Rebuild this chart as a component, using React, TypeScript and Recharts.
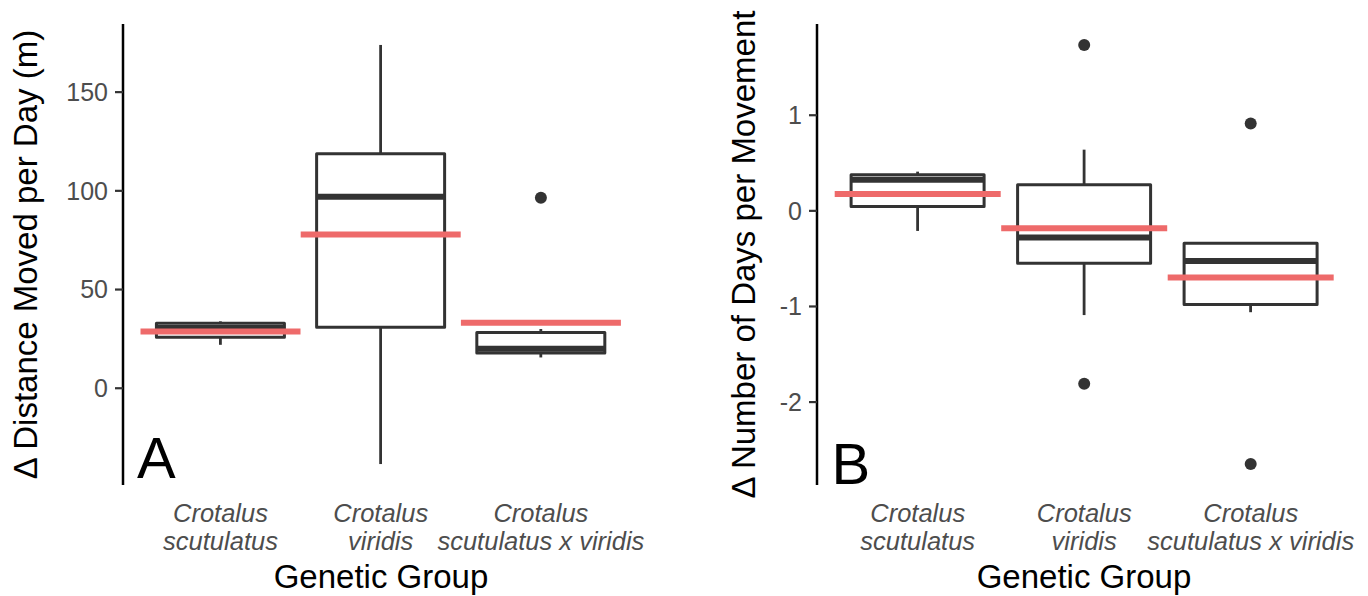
import { Bar, ComposedChart, Scatter, XAxis, YAxis } from "recharts";

const FONT = '"Liberation Sans", Arial, Helvetica, sans-serif';
const INK = "#333333";
const TICK_GREY = "#4D4D4D";
const MEAN_RED = "#EE6A6A";

const groups = ["Crotalus scutulatus", "Crotalus viridis", "Crotalus scutulatus x viridis"];

// panel A: change in distance moved per day (m)
const distLower = [22.0, -38.4, 15.6];
const distQ1 = [25.8, 30.9, 17.9];
const distMedian = [30.5, 97.0, 20.0];
const distQ3 = [32.9, 118.8, 28.3];
const distUpper = [33.9, 173.9, 30.0];
const distMean = [28.8, 77.9, 33.2];
const distOutGroup = [2];
const distOutValue = [96.5];
const distTicks = [0, 50, 100, 150];

// panel B: change in number of days per movement
const daysLower = [-0.21, -1.09, -1.06];
const daysQ1 = [0.045, -0.549, -0.979];
const daysMedian = [0.325, -0.28, -0.525];
const daysQ3 = [0.378, 0.273, -0.339];
const daysUpper = [0.41, 0.64, -0.339];
const daysMean = [0.175, -0.182, -0.696];
const daysOutGroup = [1, 1, 2, 2];
const daysOutValue = [1.735, -1.808, 0.913, -2.648];
const daysTicks = [-2, -1, 0, 1];

type BoxRow = {
  name: string;
  whisker: [number, number];
  q1: number;
  q3: number;
  median: number;
  mean: number;
};

function buildRows(lo: number[], q1: number[], med: number[], q3: number[], hi: number[], mean: number[]): BoxRow[] {
  return groups.map((name, i) => ({
    name,
    whisker: [lo[i], hi[i]],
    q1: q1[i],
    q3: q3[i],
    median: med[i],
    mean: mean[i],
  }));
}

function buildOutliers(idx: number[], vals: number[]) {
  return idx.map((g, i) => ({ name: groups[g], value: vals[i] }));
}

// ggplot-style 5% expansion around all plotted values
function expanded(...series: number[][]): [number, number] {
  const all = series.flat();
  const min = Math.min(...all);
  const max = Math.max(...all);
  const pad = (max - min) * 0.05;
  return [min - pad, max + pad];
}

function BoxShape(props: any) {
  const { x, y, width, height, payload } = props;
  const top = Math.min(y, y + height);
  const bottom = Math.max(y, y + height);
  const [lo, hi] = payload.whisker;
  const toY = (v: number) => (hi === lo ? top : top + ((hi - v) / (hi - lo)) * (bottom - top));
  const cx = x + width / 2;
  const yQ1 = toY(payload.q1);
  const yQ3 = toY(payload.q3);
  const yMed = toY(payload.median);
  return (
    <g>
      <line x1={cx} x2={cx} y1={top} y2={yQ3} stroke={INK} strokeWidth={2.8} />
      <line x1={cx} x2={cx} y1={yQ1} y2={bottom} stroke={INK} strokeWidth={2.8} />
      <rect
        x={x}
        y={yQ3}
        width={width}
        height={Math.max(yQ1 - yQ3, 0)}
        fill="#fff"
        stroke={INK}
        strokeWidth={3}
        strokeLinejoin="round"
      />
      <line x1={x} x2={x + width} y1={yMed} y2={yMed} stroke={INK} strokeWidth={6} />
    </g>
  );
}

const meanShape = (half: number) => (props: any) =>
  (
    <line x1={props.cx - half} x2={props.cx + half} y1={props.cy} y2={props.cy} stroke={MEAN_RED} strokeWidth={6} />
  );

const outlierShape = (props: any) => <circle cx={props.cx} cy={props.cy} r={6} fill={INK} />;

function GroupTick(props: any) {
  const { x, y, payload } = props;
  const [genus, ...rest] = String(payload.value).split(" ");
  return (
    <text x={x} y={y} textAnchor="middle" fontFamily={FONT} fontSize={25.5} fontStyle="italic" fill={TICK_GREY}>
      <tspan x={x} y={y + 37}>
        {genus}
      </tspan>
      <tspan x={x} y={y + 64.5}>
        {rest.join(" ")}
      </tspan>
    </text>
  );
}

const yTitle = (text: string, baselineX: number) => (props: any) => {
  const vb = props.viewBox;
  return (
    <text
      transform={`translate(${vb.x + baselineX}, ${vb.y + vb.height / 2}) rotate(-90)`}
      textAnchor="middle"
      fontFamily={FONT}
      fontSize={33}
      fill="#000"
    >
      {text}
    </text>
  );
};

const xTitle = (props: any) => {
  const vb = props.viewBox;
  return (
    <text x={vb.x + vb.width / 2} y={vb.y + 103} textAnchor="middle" fontFamily={FONT} fontSize={33} fill="#000">
      Genetic Group
    </text>
  );
};

function BoxPanel({
  rows,
  outliers,
  domain,
  ticks,
  width,
  yAxisWidth,
  marginRight,
  padLeft,
  padRight,
  meanHalf,
  title,
  titleX,
  letter,
  letterX,
  letterY,
}: {
  rows: BoxRow[];
  outliers: { name: string; value: number }[];
  domain: [number, number];
  ticks: number[];
  width: number;
  yAxisWidth: number;
  marginRight: number;
  padLeft: number;
  padRight: number;
  meanHalf: number;
  title: string;
  titleX: number;
  letter: string;
  letterX: number;
  letterY: number;
}) {
  return (
    <ComposedChart width={width} height={596} data={rows} margin={{ top: 24, right: marginRight, bottom: 0, left: 0 }}>
      <XAxis
        dataKey="name"
        type="category"
        allowDuplicatedCategory={false}
        height={111}
        padding={{ left: padLeft, right: padRight }}
        axisLine={false}
        tickLine={false}
        tickSize={0}
        tickMargin={0}
        interval={0}
        tick={<GroupTick />}
        label={{ content: xTitle }}
      />
      <YAxis
        type="number"
        domain={domain}
        ticks={ticks}
        width={yAxisWidth}
        tickSize={8}
        tickMargin={7}
        axisLine={{ stroke: "#000", strokeWidth: 2.5 }}
        tickLine={{ stroke: INK, strokeWidth: 2.2 }}
        tick={{ fill: TICK_GREY, fontSize: 25, fontFamily: FONT }}
        label={{ content: yTitle(title, titleX) }}
      />
      <Bar dataKey="whisker" barCategoryGap="12.5%" shape={<BoxShape />} isAnimationActive={false} />
      <Scatter data={outliers} dataKey="value" shape={outlierShape} isAnimationActive={false} />
      <Scatter dataKey="mean" shape={meanShape(meanHalf)} isAnimationActive={false} />
      <text x={letterX} y={letterY} fontFamily={FONT} fontSize={58} fill="#000">
        {letter}
      </text>
    </ComposedChart>
  );
}

export default function App() {
  const distRows = buildRows(distLower, distQ1, distMedian, distQ3, distUpper, distMean);
  const daysRows = buildRows(daysLower, daysQ1, daysMedian, daysQ3, daysUpper, daysMean);
  const distOut = buildOutliers(distOutGroup, distOutValue);
  const daysOut = buildOutliers(daysOutGroup, daysOutValue);

  return (
    <div
      style={{
        position: "absolute",
        left: 0,
        top: 0,
        width: 1368,
        height: 596,
        background: "#fff",
        fontFamily: FONT,
      }}
    >
      <div style={{ position: "absolute", left: 0, top: 0 }}>
        <BoxPanel
          rows={distRows}
          outliers={distOut}
          domain={expanded(distLower, distUpper, distOutValue)}
          ticks={distTicks}
          width={660}
          yAxisWidth={123}
          marginRight={21}
          padLeft={17.4}
          padRight={18}
          meanHalf={80}
          title="Δ Distance Moved per Day (m)"
          titleX={37}
          letter="A"
          letterX={137}
          letterY={477.5}
        />
      </div>
      <div style={{ position: "absolute", left: 690, top: 0 }}>
        <BoxPanel
          rows={daysRows}
          outliers={daysOut}
          domain={expanded(daysLower, daysUpper, daysOutValue)}
          ticks={daysTicks}
          width={678}
          yAxisWidth={127}
          marginRight={17}
          padLeft={17.45}
          padRight={17.05}
          meanHalf={83}
          title="Δ Number of Days per Movement"
          titleX={65}
          letter="B"
          letterX={141.5}
          letterY={484}
        />
      </div>
    </div>
  );
}
